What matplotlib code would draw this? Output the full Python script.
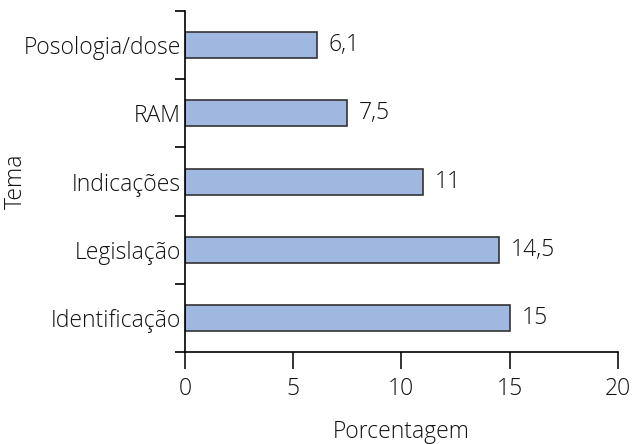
import matplotlib.pyplot as plt

# Data
temas = ["Identificação", "Legislação", "Indicações", "RAM", "Posologia/dose"]
porcentagem = [15, 14.5, 11, 7.5, 6.1]
rotulos = ["15", "14,5", "11", "7,5", "6,1"]

plt.rcParams['font.family'] = ['Open Sans', 'DejaVu Sans']
plt.rcParams['font.size'] = 16.5
plt.rcParams['font.weight'] = 'light'
plt.rcParams['axes.labelweight'] = 'light'

fig = plt.figure(figsize=(6.33, 4.44), dpi=100)
ax = fig.add_axes([0.292, 0.207, 0.684, 0.768])

pos = range(len(temas))
ax.barh(pos, porcentagem, height=0.38, color='#a0b8e0', edgecolor='#333333', linewidth=1.2)

for p, v, r in zip(pos, porcentagem, rotulos):
    ax.text(v + 0.55, p, r, va='center', ha='left', color='#111111')

ax.set_xlim(0, 20)
ax.set_ylim(-0.5, 4.5)
ax.set_xticks([0, 5, 10, 15, 20])
ax.set_yticks(list(pos))
ax.set_yticklabels(temas)
ax.set_yticks([i - 0.5 for i in range(len(temas) + 1)], minor=True)
ax.tick_params(axis='y', which='major', length=0, pad=3, colors='#111111')
ax.tick_params(axis='y', which='minor', length=7, width=1.2)
ax.tick_params(axis='x', length=12, width=1.2, pad=6, colors='#111111')

for s in ['top', 'right']:
    ax.spines[s].set_visible(False)
for s in ['left', 'bottom']:
    ax.spines[s].set_linewidth(1.2)

ax.set_xlabel("Porcentagem", color='#111111', va='center')
ax.set_ylabel("Tema", color='#111111', va='center')
ax.xaxis.set_label_coords(0.5, -0.235)
ax.yaxis.set_label_coords(-0.39, 0.5)

fig.savefig("out.png", dpi=100)
